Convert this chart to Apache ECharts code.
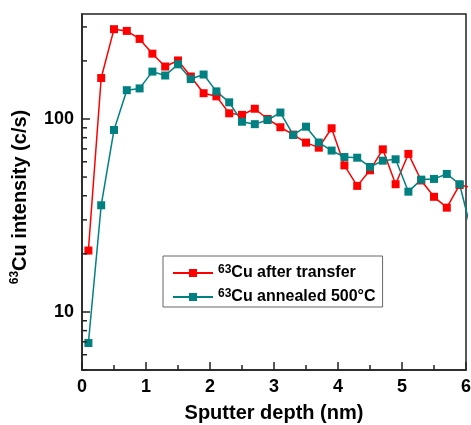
<!DOCTYPE html>
<html><head><meta charset="utf-8">
<script src="https://cdn.jsdelivr.net/npm/echarts@6/dist/echarts.min.js"></script>
<style>html,body{margin:0;padding:0;background:#fff}#c{width:471px;height:425px}</style>
</head><body><div id="c"></div>
<script>
// Sputter depth (nm)
const depth = [0.1,0.3,0.5,0.7,0.9,1.1,1.3,1.5,1.7,1.9,2.1,2.3,2.5,2.7,2.9,3.1,3.3,3.5,3.7,3.9,4.1,4.3,4.5,4.7,4.9,5.1,5.3,5.5,5.7,5.9,6.1];
// 63Cu after transfer (c/s)
const cuAfterTransfer = [20.8,163,292,286,260,218,187,201,166,136,131,107,105,113,100,90.6,83,75.4,71,89.5,57.5,45,54.2,69.6,45.9,65.9,48,39.5,34.7,45.5,44];
// 63Cu annealed 500°C (c/s)
const cuAnnealed = [6.9,35.7,87.7,141,144,176,168,192,161,170,139,122,96.8,94,98.8,108,82.6,91.2,75.5,68.6,63.5,63,56.4,60.8,61.8,42,48.5,48.9,51.9,45.9,25];
const seriesNames = ['63Cu after transfer', '63Cu annealed 500°C'];
const yMinorTicks = [5,6,7,8,9,20,30,40,50,60,70,80,90,200,300];
const yMin = 5, yMax = 350, xMin = 0, xMax = 6;

const FONT = 'Arial, "Liberation Sans", sans-serif';
const supRich = (size) => ({
  sup: {fontSize: 12, fontWeight: 'bold', fontFamily: FONT, color: '#000', verticalAlign: 'top', lineHeight: 12},
  t: {fontSize: size, fontWeight: 'bold', fontFamily: FONT, color: '#000', lineHeight: size + 2}
});
const toRich = (s) => '{sup|' + s.slice(0, 2) + '}{t|' + s.slice(2) + '}';

const chart = echarts.init(document.getElementById('c'), null, {renderer: 'canvas'});
const lineAxis = {show: true, lineStyle: {color: '#222', width: 1.5}};
chart.setOption({
  animation: false,
  backgroundColor: '#fff',
  grid: {left: 82, right: 5, top: 14, bottom: 55, show: true, borderColor: '#222', borderWidth: 1.5,
    containLabel: false, outerBoundsMode: 'none'},
  legend: {
    orient: 'vertical', left: 163, top: 256,
    padding: [8, 7, 2, 9], itemGap: 7, itemWidth: 40, itemHeight: 10,
    borderColor: '#666', borderWidth: 1,
    data: seriesNames,
    formatter: (n) => toRich(n),
    textStyle: {rich: supRich(16), fontFamily: FONT}
  },
  xAxis: {
    type: 'value', min: xMin, max: xMax, interval: 1,
    name: 'Sputter depth (nm)', nameLocation: 'middle', nameGap: 33,
    nameTextStyle: {fontSize: 20, fontWeight: 'bold', fontFamily: FONT, color: '#000'},
    axisLine: lineAxis,
    axisTick: {inside: true, length: 8, lineStyle: {color: '#222', width: 1.5}},
    minorTick: {show: true, splitNumber: 2, length: 5, lineStyle: {color: '#222', width: 1.5}},
    axisLabel: {fontSize: 18, fontWeight: 'bold', fontFamily: FONT, color: '#000', margin: 8},
    splitLine: {show: false}
  },
  yAxis: {
    type: 'log', logBase: 10, min: yMin, max: yMax,
    name: toRich('63Cu intensity (c/s)'), nameLocation: 'middle', nameGap: 51,
    nameTextStyle: {rich: supRich(20), padding: [0, 10, 0, 0]},
    axisLine: lineAxis,
    axisTick: {inside: true, length: 8, lineStyle: {color: '#222', width: 1.5}},
    axisLabel: {fontSize: 18, fontWeight: 'bold', fontFamily: FONT, color: '#000', margin: 8,
      showMinLabel: false, showMaxLabel: false},
    splitLine: {show: false}
  },
  series: [{
    name: seriesNames[0], type: 'line',
    data: depth.map((d, i) => [d, cuAfterTransfer[i]]),
    symbol: 'rect', symbolSize: 8, clip: true,
    itemStyle: {color: '#ff0000'}, lineStyle: {color: '#ff0000', width: 1.5}
  }, {
    name: seriesNames[1], type: 'line',
    data: depth.map((d, i) => [d, cuAnnealed[i]]),
    symbol: 'rect', symbolSize: 8, clip: true,
    itemStyle: {color: '#008080'}, lineStyle: {color: '#008080', width: 1.5}
  }]
});

// Minor log ticks on the y axis, positioned through the chart's own log scale
const x0 = chart.convertToPixel({xAxisIndex: 0}, xMin);
const minorTickEls = yMinorTicks.map(v => {
  const py = chart.convertToPixel({yAxisIndex: 0}, v);
  return {type: 'line', silent: true, z: 10,
    shape: {x1: x0, y1: py, x2: x0 + 5, y2: py},
    style: {stroke: '#222', lineWidth: 1.5}};
});
chart.setOption({graphic: minorTickEls});
</script></body></html>
